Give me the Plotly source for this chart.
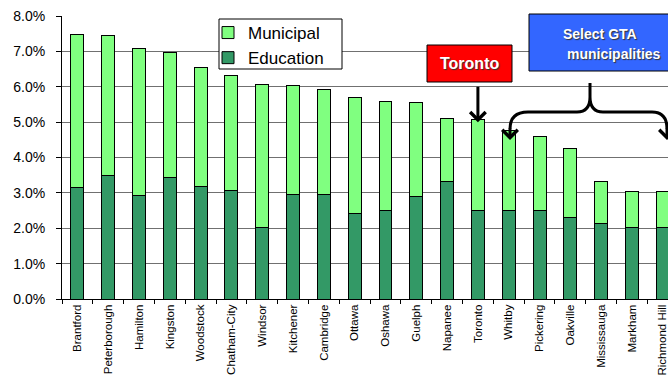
import plotly.graph_objects as go

cities = ["Brantford", "Peterborough", "Hamilton", "Kingston", "Woodstock", "Chatham-City",
          "Windsor", "Kitchener", "Cambridge", "Ottawa", "Oshawa", "Guelph", "Napanee",
          "Toronto", "Whitby", "Pickering", "Oakville", "Mississauga", "Markham", "Richmond Hill"]
education = [0.0315, 0.0350, 0.0294, 0.0344, 0.0317, 0.0308, 0.0201, 0.0296, 0.0296, 0.0242,
             0.0249, 0.0291, 0.0332, 0.0249, 0.0249, 0.0249, 0.0231, 0.0214, 0.0201, 0.0201]
municipal = [0.0432, 0.0394, 0.0413, 0.0352, 0.0338, 0.0323, 0.0405, 0.0307, 0.0296, 0.0329,
             0.0310, 0.0264, 0.0179, 0.0259, 0.0227, 0.0210, 0.0194, 0.0118, 0.0104, 0.0104]
y_ticks = [0.0, 0.01, 0.02, 0.03, 0.04, 0.05, 0.06, 0.07, 0.08]

FONT = "Liberation Sans, Arial, sans-serif"
W, H = 668, 375
L, T, PW, PH = 62, 16, 606, 283


def px(x):
    return (x - L) / PW


def py(y):
    return (T + PH - y) / PH


fig = go.Figure()
fig.add_bar(x=cities, y=education, name="Education", width=0.42,
            marker=dict(color="#339966", line=dict(color="#000000", width=1)))
fig.add_bar(x=cities, y=municipal, name="Municipal", width=0.42,
            marker=dict(color="#80FF80", line=dict(color="#000000", width=1)))

shapes = [
    # legend box
    dict(type="rect", xref="paper", yref="paper", x0=px(219), x1=px(342), y0=py(69), y1=py(19),
         fillcolor="#FFFFFF", line=dict(color="#000000", width=1), layer="above"),
    dict(type="rect", xref="paper", yref="paper", x0=px(427), x1=px(512), y0=py(82), y1=py(45),
         fillcolor="#FF0000", line=dict(color="#000000", width=1), layer="above"),
    dict(type="rect", xref="paper", yref="paper", x0=px(529), x1=px(720), y0=py(71), y1=py(14),
         fillcolor="#3366FF", line=dict(color="#000000", width=1), layer="above"),
]


def P(x, y):
    return f"{px(x):.5f},{py(y):.5f}"


brace = (f"M {P(510,129)} Q {P(510,112)} {P(528,112)} L {P(577,112)} "
         f"Q {P(590,112)} {P(590,97)} L {P(590,83)} "
         f"M {P(590,97)} Q {P(590,112)} {P(603,112)} L {P(652,112)} "
         f"Q {P(667,112)} {P(667,129)}")
shapes.append(dict(type="path", xref="paper", yref="paper", path=brace,
                   line=dict(color="#000000", width=3), layer="above"))

tot = [e + m for e, m in zip(education, municipal)]
ti = cities.index("Toronto")
txtfont = dict(family=FONT, color="#FFFFFF", shadow="1px 1px 1px #333333")
annotations = [
    dict(x="Toronto", y=tot[ti] - 0.0008, xref="x", yref="y", ax=0, ay=-37, text="",
         showarrow=True, arrowhead=4, arrowsize=1, arrowwidth=3, arrowcolor="#000000"),
    dict(x=px(510), y=py(140), xref="paper", yref="paper", ax=0, ay=-13, text="",
         showarrow=True, arrowhead=4, arrowsize=1, arrowwidth=3, arrowcolor="#000000"),
    dict(x=px(667), y=py(140), xref="paper", yref="paper", ax=0, ay=-13, text="",
         showarrow=True, arrowhead=4, arrowsize=1, arrowwidth=3, arrowcolor="#000000"),
    dict(x=px(469.5), y=py(63.5), xref="paper", yref="paper", text="<b>Toronto</b>",
         xanchor="center", yanchor="middle", showarrow=False, font=dict(size=16, **txtfont)),
    dict(x=px(600), y=py(33.5), xref="paper", yref="paper", text="<b>Select GTA</b>",
         xanchor="center", yanchor="middle", showarrow=False, font=dict(size=14, **txtfont)),
    dict(x=px(614), y=py(53.5), xref="paper", yref="paper", text="<b>municipalities</b>",
         xanchor="center", yanchor="middle", showarrow=False, font=dict(size=14, **txtfont)),
]

fig.update_layout(
    width=W, height=H,
    margin=dict(l=L, r=W - L - PW, t=T, b=H - T - PH, pad=0),
    barmode="stack",
    paper_bgcolor="#FFFFFF", plot_bgcolor="#FFFFFF",
    font=dict(family=FONT, color="#000000"),
    showlegend=True,
    legend=dict(x=px(208), y=py(15), xanchor="left", yanchor="top", traceorder="reversed",
                bgcolor="rgba(0,0,0,0)", borderwidth=0,
                font=dict(family=FONT, size=17, color="#000000"),
                itemwidth=30, tracegroupgap=0),
    shapes=shapes,
    annotations=annotations,
    xaxis=dict(type="category", range=[-0.5, 19.17], showgrid=False,
               showline=True, linecolor="#000000", linewidth=1,
               ticks="outside", tickson="boundaries", ticklen=4, tickcolor="#000000",
               tickangle=-90, tickfont=dict(family=FONT, size=11.5, color="#000000")),
    yaxis=dict(range=[0, 0.08], tickvals=y_ticks, tickformat=".1%",
               showgrid=True, gridcolor="#707070", gridwidth=1, zeroline=False,
               showline=True, linecolor="#000000", linewidth=1,
               ticks="outside", ticklen=5, tickcolor="#000000", ticklabelstandoff=8,
               tickfont=dict(family=FONT, size=14, color="#000000")),
)

fig.write_html("out.html", config={"displayModeBar": False},
               post_script="document.body.style.margin='0';document.body.style.overflow='hidden';")
